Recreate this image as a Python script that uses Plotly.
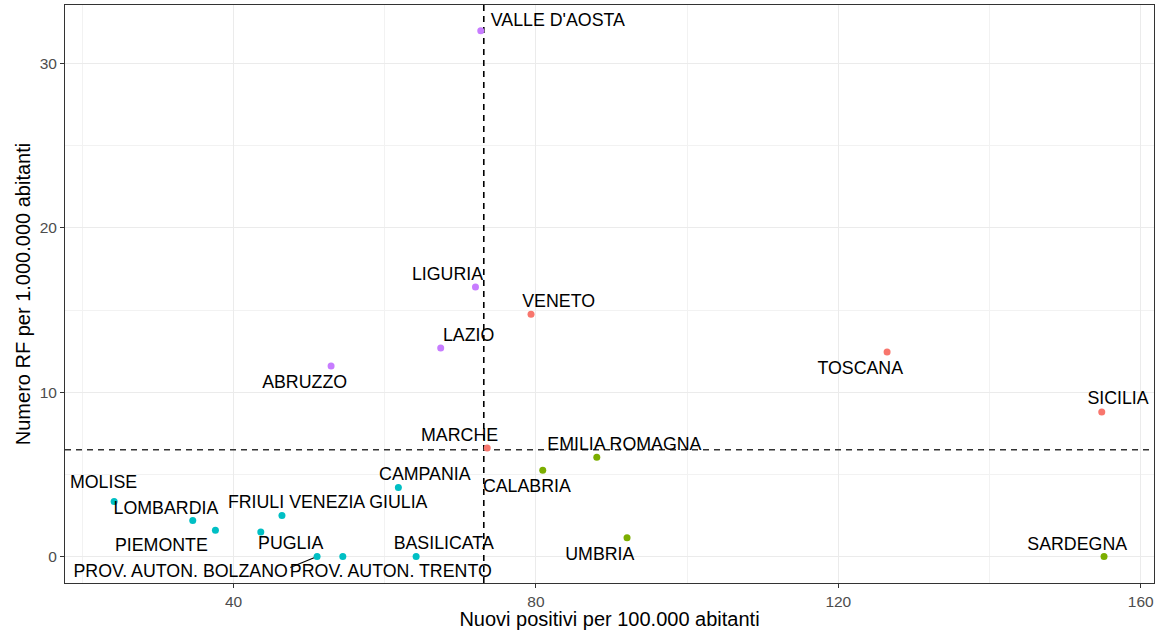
import plotly.graph_objects as go

# ---- data ----
regions = [
    "VALLE D'AOSTA", "LIGURIA", "VENETO", "LAZIO", "ABRUZZO", "TOSCANA", "SICILIA",
    "MARCHE", "EMILIA ROMAGNA", "CALABRIA", "UMBRIA", "SARDEGNA", "CAMPANIA",
    "MOLISE", "LOMBARDIA", "PIEMONTE", "PUGLIA", "FRIULI VENEZIA GIULIA",
    "PROV. AUTON. BOLZANO", "PROV. AUTON. TRENTO", "BASILICATA",
]
nuovi_positivi = [72.7, 72.0, 79.35, 67.4, 52.9, 126.45, 154.85,
                  73.55, 88.05, 80.9, 92.05, 155.15, 61.8,
                  24.2, 34.6, 37.6, 43.6, 46.4,
                  51.05, 54.45, 64.15]
numero_rf = [32.0, 16.4, 14.75, 12.7, 11.6, 12.45, 8.8,
             6.6, 6.05, 5.25, 1.15, 0.0, 4.2,
             3.35, 2.2, 1.6, 1.5, 2.5,
             0.0, 0.0, 0.0]

# reference lines (national values)
x_ref = 73.1
y_ref = 6.5

# ---- axis ranges / label placement (layout, not data) ----
x_range = [17.7, 161.76]
y_range = [-1.61, 33.57]

label_x = [82.9, 68.3, 83.0, 71.1, 49.4, 122.9, 157.0,
           69.9, 91.7, 78.8, 88.45, 151.6, 65.3,
           22.8, 31.05, 30.45, 47.55, 52.45,
           33.0, 60.8, 67.8]
label_y = [32.54, 17.08, 15.45, 13.4, 10.54, 11.38, 9.54,
           7.29, 6.74, 4.22, 0.06, 0.69, 4.95,
           4.47, 2.88, 0.63, 0.71, 3.21,
           -1.0, -1.0, 0.71]
seg_start = (47.5, -0.67)   # repel segment for BOLZANO label

palette = {"HH": "#F8766D", "LH": "#C77CFF", "HL": "#7CAE00", "LL": "#00BFC4"}


def quadrant(x, y):
    return ("H" if x >= x_ref else "L") + ("H" if y >= y_ref else "L")


colors = [palette[quadrant(x, y)] for x, y in zip(nuovi_positivi, numero_rf)]

FONT = "Liberation Sans, Arial, sans-serif"

fig = go.Figure()

# dashed reference lines (drawn under the points)
fig.add_trace(go.Scatter(
    x=[x_ref, x_ref], y=y_range, mode="lines",
    line=dict(color="black", width=1.6, dash="6px,5px"),
    hoverinfo="skip", showlegend=False))
fig.add_trace(go.Scatter(
    x=x_range, y=[y_ref, y_ref], mode="lines",
    line=dict(color="#333333", width=1.4, dash="6px,5px"),
    hoverinfo="skip", showlegend=False))

# segment for BOLZANO label
bi = regions.index("PROV. AUTON. BOLZANO")
fig.add_trace(go.Scatter(
    x=[seg_start[0], nuovi_positivi[bi]], y=[seg_start[1], numero_rf[bi]],
    mode="lines", line=dict(color="black", width=1.2),
    hoverinfo="skip", showlegend=False))

# points
fig.add_trace(go.Scatter(
    x=nuovi_positivi, y=numero_rf, mode="markers",
    marker=dict(color=colors, size=7, line=dict(width=0)),
    text=regions, showlegend=False))

# labels
fig.add_trace(go.Scatter(
    x=label_x, y=label_y, mode="text", text=regions,
    textposition="middle center",
    textfont=dict(family=FONT, size=17.8, color="black"),
    hoverinfo="skip", showlegend=False))

axis_common = dict(
    automargin=False,
    showgrid=True, gridcolor="#EBEBEB", gridwidth=1.1,
    zeroline=False, showline=True, mirror=True, linecolor="#333333", linewidth=1,
    ticks="outside", ticklen=4, tickwidth=1, tickcolor="#333333",
    tickfont=dict(family=FONT, size=15.5, color="#4D4D4D"),
)

fig.update_xaxes(
    range=x_range, tickvals=[40, 80, 120, 160],
    minor=dict(tickvals=[20, 60, 100, 140], showgrid=True, gridcolor="#F2F2F2", gridwidth=0.8, ticks=""),
    title=dict(text="Nuovi positivi per 100.000 abitanti", standoff=4,
               font=dict(family=FONT, size=20, color="black")),
    **axis_common)
fig.update_yaxes(
    range=y_range, tickvals=[0, 10, 20, 30],
    minor=dict(tickvals=[5, 15, 25], showgrid=True, gridcolor="#F2F2F2", gridwidth=0.8, ticks=""),
    title=dict(text="Numero RF per 1.000.000 abitanti", standoff=3,
               font=dict(family=FONT, size=20, color="black")),
    **axis_common)

fig.update_layout(
    width=1161, height=630,
    margin=dict(l=65, r=7, t=5, b=47),
    paper_bgcolor="white", plot_bgcolor="white",
    font=dict(family=FONT),
    showlegend=False,
)

fig.write_html("out.html", config={"displayModeBar": False},
               post_script="document.body.style.margin='0px';document.body.style.overflow='hidden';")
